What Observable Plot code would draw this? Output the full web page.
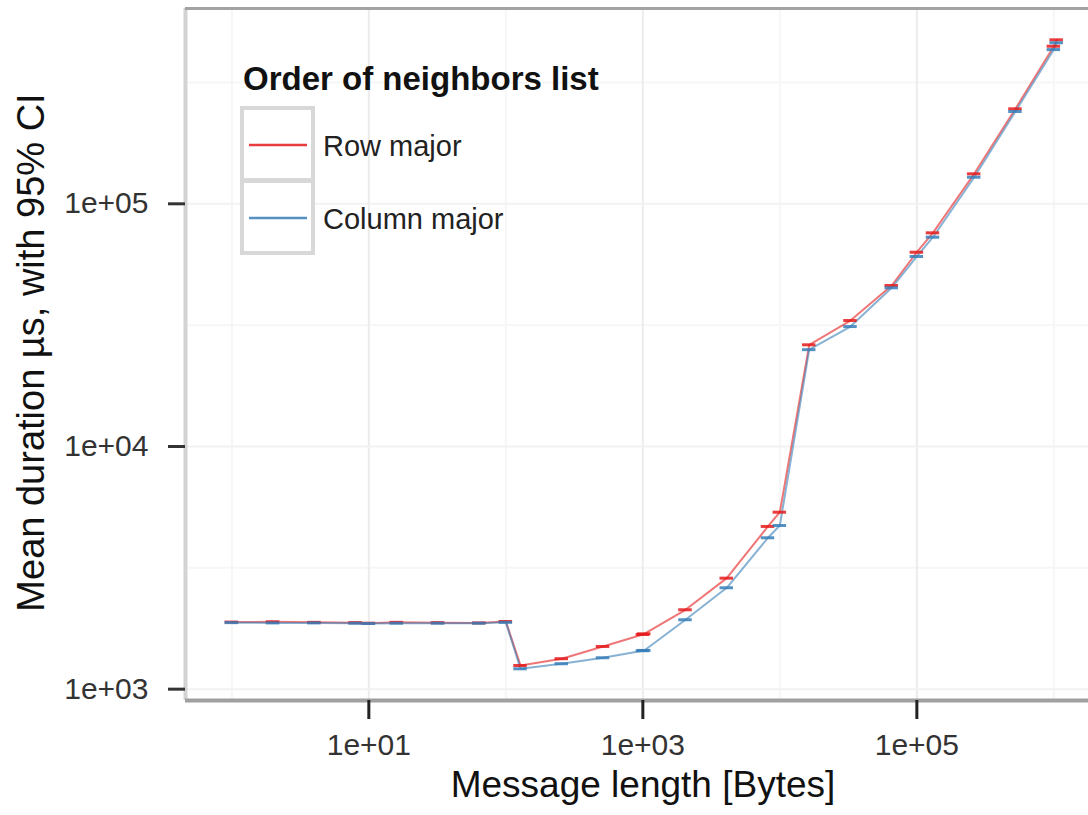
<!DOCTYPE html>
<html>
<head>
<meta charset="utf-8">
<script src="https://cdn.jsdelivr.net/npm/d3@7"></script>
<script src="https://cdn.jsdelivr.net/npm/@observablehq/plot@0.6"></script>
<style>
  html, body { margin: 0; padding: 0; background: #fff; overflow: hidden; }
  #chart svg { display: block; }
</style>
</head>
<body>
<div id="chart"></div>
<script>
// ---- data ----
const sizes = [1, 2, 4, 8, 10, 16, 32, 64, 100, 128, 256, 512, 1000, 1024, 2048, 4096, 8192, 10000,
  16384, 32768, 65536, 100000, 131072, 262144, 524288, 1000000, 1048576];
const rowMajor = [1890, 1895, 1885, 1880, 1870, 1885, 1880, 1875, 1900, 1252, 1335, 1499, 1680, 1691,
  2124, 2867, 4682, 5361, 26240, 33040, 46060, 63170, 75930, 132900, 246300, 446000, 474000];
const colMajor = [1880, 1875, 1875, 1870, 1865, 1870, 1870, 1870, 1885, 1213, 1273, 1347, 1440, 1444,
  1932, 2617, 4205, 4726, 25060, 31200, 45070, 60660, 72850, 128700, 240100, 432000, 461000];
const seriesNames = ["Row major", "Column major"];
const seriesColors = ["#E41A1C", "#377EB8"];
const xMajor = [10, 1000, 100000];
const xMinor = [1, 100, 10000, 1000000];
const yMajor = [1000, 10000, 100000];
const yMinor = [3162.28, 31622.8, 316228];
const xDomain = [0.459, 1.79e6];
const yDomain = [898, 6.38e5];
const xTitle = "Message length [Bytes]";
const yTitle = "Mean duration µs, with 95% CI";
const legendTitle = "Order of neighbors list";

const data = sizes.flatMap((s, i) => [
  {size: s, mean: rowMajor[i], order: seriesNames[0]},
  {size: s, mean: colMajor[i], order: seriesNames[1]}
]);

const fmt = v => "1e+" + String(Math.round(Math.log10(v))).padStart(2, "0");

const plot = Plot.plot({
  width: 1088,
  height: 815,
  marginLeft: 185,
  marginRight: 0,
  marginTop: 8,
  marginBottom: 115,
  style: {fontFamily: "'Liberation Sans', Arial, sans-serif", background: "#fff", overflow: "visible"},
  x: {type: "log", domain: xDomain},
  y: {type: "log", domain: yDomain},
  color: {domain: seriesNames, range: seriesColors},
  marks: [
    Plot.gridX({ticks: xMinor, stroke: "#f6f6f6", strokeOpacity: 1, strokeWidth: 2}),
    Plot.gridY({ticks: yMinor, stroke: "#f6f6f6", strokeOpacity: 1, strokeWidth: 2}),
    Plot.gridX({ticks: xMajor, stroke: "#ececec", strokeOpacity: 1, strokeWidth: 2}),
    Plot.gridY({ticks: yMajor, stroke: "#f2f2f2", strokeOpacity: 1, strokeWidth: 2}),
    Plot.ruleX([xDomain[0]], {stroke: "#d3d3d3", strokeWidth: 4}),
    Plot.ruleY([yDomain[1]], {stroke: "#a3a3a3", strokeWidth: 3}),
    Plot.line(data, {x: "size", y: "mean", z: "order", stroke: "order", strokeWidth: 2, strokeOpacity: 0.6}),
    Plot.ruleY(data, {y: "mean", x1: d => d.size / 1.12, x2: d => d.size * 1.12, stroke: "order", strokeWidth: 3, strokeOpacity: 0.85}),
    Plot.ruleY([yDomain[0]], {stroke: "#a0a0a0", strokeWidth: 4}),
    Plot.axisX({ticks: xMajor, tickFormat: fmt, tickSize: 19, tickPadding: 14, fontSize: 30,
      stroke: "#222", strokeWidth: 3, fill: "#333", label: null}),
    Plot.axisY({ticks: yMajor, tickFormat: fmt, tickSize: 17, tickPadding: 20, fontSize: 30,
      stroke: "#333", strokeWidth: 3, fill: "#333", label: null}),
    Plot.text([xTitle], {frameAnchor: "bottom", dx: 6, dy: 96, fontSize: 37, fill: "#111"}),
    Plot.text([yTitle], {frameAnchor: "left", textAnchor: "middle", rotate: -90, dx: -154, dy: -2, fontSize: 38, fill: "#111"})
  ]
});

// legend (inside panel, top-left)
const svg = d3.select(plot);
const lg = svg.append("g").attr("text-anchor", "start");
lg.append("text").attr("x", 243).attr("y", 90).attr("font-size", 33).attr("font-weight", "bold")
  .attr("fill", "#111").text(legendTitle);
seriesNames.forEach((name, i) => {
  const top = 108 + i * 73;
  lg.append("rect").attr("x", 242).attr("y", top).attr("width", 71).attr("height", 72)
    .attr("fill", "#fff").attr("stroke", "#d8d8d8").attr("stroke-width", 4);
  lg.append("line").attr("x1", 249).attr("x2", 307).attr("y1", top + 37).attr("y2", top + 37)
    .attr("stroke", seriesColors[i]).attr("stroke-width", 2.7).attr("stroke-opacity", 0.85);
  lg.append("text").attr("x", 323).attr("y", top + 48).attr("font-size", 29).attr("fill", "#222").text(name);
});

document.getElementById("chart").appendChild(plot);
</script>
</body>
</html>
